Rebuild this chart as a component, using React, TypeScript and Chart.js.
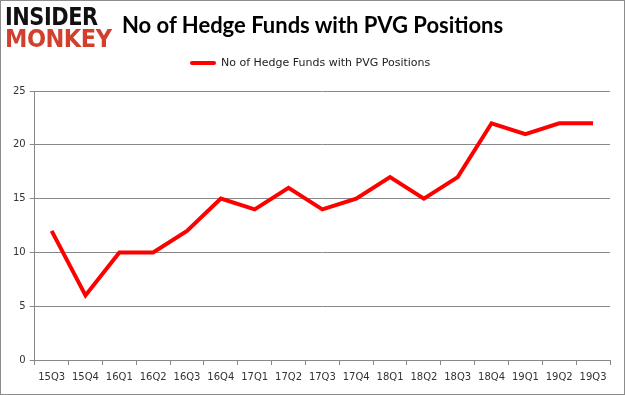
import React, { useEffect, useRef } from "react";
import { Chart, registerables } from "chart.js";

Chart.register(...registerables);

const categories = ["15Q3", "15Q4", "16Q1", "16Q2", "16Q3", "16Q4", "17Q1", "17Q2", "17Q3", "17Q4", "18Q1", "18Q2", "18Q3", "18Q4", "19Q1", "19Q2", "19Q3"];
const hedgeFunds = [12, 6, 10, 10, 12, 15, 14, 16, 14, 15, 17, 15, 17, 22, 21, 22, 22];
const seriesName = "No of Hedge Funds with PVG Positions";
const titleText = "No of Hedge Funds with PVG Positions";

export default function App() {
  const ref = useRef<HTMLCanvasElement | null>(null);

  useEffect(() => {
    if (!ref.current) return;
    const chart = new Chart(ref.current, {
      type: "line",
      data: {
        labels: categories,
        datasets: [
          {
            label: seriesName,
            data: hedgeFunds,
            borderColor: "#ff0000",
            backgroundColor: "#ff0000",
            borderWidth: 4,
            pointRadius: 0,
            tension: 0,
            fill: false,
          },
        ],
      },
      options: {
        animation: false,
        responsive: false,
        maintainAspectRatio: false,
        layout: { padding: { top: 90, left: 8, right: 14, bottom: 5 } },
        plugins: {
          legend: { display: false },
          title: { display: false },
          tooltip: { enabled: false },
        },
        scales: {
          x: {
            type: "category",
            offset: true,
            grid: {
              display: true,
              drawOnChartArea: false,
              drawTicks: true,
              tickLength: 5,
              offset: true,
              color: "#888888",
            },
            border: { color: "#888888" },
            ticks: {
              color: "#333333",
              font: { family: "DejaVu Sans", size: 10 },
              maxRotation: 0,
              autoSkip: false,
              padding: 6,
            },
          },
          y: {
            min: 0,
            max: 25,
            ticks: {
              stepSize: 5,
              color: "#333333",
              font: { family: "DejaVu Sans", size: 10 },
              padding: 4,
            },
            grid: { color: "#888888", tickLength: 5 },
            border: { color: "#888888" },
          },
        },
      },
    });
    return () => chart.destroy();
  }, []);

  return (
    <div
      style={{
        position: "fixed",
        left: 0,
        top: 0,
        width: 625,
        height: 395,
        boxSizing: "border-box",
        border: "1px solid #8c8c8c",
        background: "#ffffff",
        overflow: "hidden",
      }}
    >
      <canvas ref={ref} width={623} height={393} style={{ position: "absolute", left: 0, top: 0 }} />
      <div
        style={{
          position: "absolute",
          left: 4,
          top: 5,
          fontFamily: "DejaVu Sans Condensed, DejaVu Sans",
          fontWeight: 900,
          fontSize: 25,
          lineHeight: "22px",
          letterSpacing: -0.5,
        }}
      >
        <div style={{ color: "#111111", transform: "scaleX(0.93)", transformOrigin: "left center" }}>INSIDER</div>
        <div style={{ color: "#d23f2c", transform: "scaleX(1.0)", transformOrigin: "left center" }}>MONKEY</div>
      </div>
      <div
        style={{
          position: "absolute",
          left: 121,
          top: 10,
          fontFamily: "Lato, sans-serif",
          fontWeight: 700,
          fontSize: 22,
          color: "#000000",
          whiteSpace: "nowrap",
        }}
      >
        {titleText}
      </div>
      <div
        style={{
          position: "absolute",
          left: 189,
          top: 55,
          display: "flex",
          alignItems: "center",
          fontFamily: "DejaVu Sans, sans-serif",
          fontSize: 11,
          color: "#222222",
          whiteSpace: "nowrap",
        }}
      >
        <span style={{ display: "inline-block", width: 26, height: 4, background: "#ff0000", borderRadius: 2, marginRight: 5 }} />
        <span>{seriesName}</span>
      </div>
    </div>
  );
}
